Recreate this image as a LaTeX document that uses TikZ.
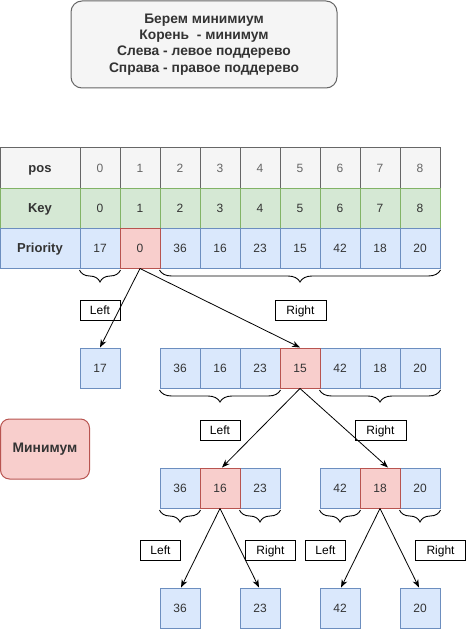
\documentclass[tikz,border=0pt]{standalone}
\usepackage{fontspec}
\setmainfont{Liberation Sans}
\usetikzlibrary{arrows.meta}
\usetikzlibrary{decorations.pathreplacing}

\definecolor{graybg}{HTML}{F5F5F5}
\definecolor{grayln}{HTML}{666666}
\definecolor{greenbg}{HTML}{D5E8D4}
\definecolor{greenln}{HTML}{82B366}
\definecolor{bluebg}{HTML}{DAE8FC}
\definecolor{blueln}{HTML}{6C8EBF}
\definecolor{redbg}{HTML}{F8CECC}
\definecolor{redln}{HTML}{B85450}
\definecolor{txt}{HTML}{333333}

\begin{document}
\begin{tikzpicture}[x=1pt, y=-1pt, line width=1pt,
    every node/.style={font=\fontsize{12}{16}\selectfont, text=txt},
    cell/.style={draw, minimum width=40pt, minimum height=40pt, inner sep=0pt, text height=8.6pt, text depth=0pt},
    head/.style={font=\fontsize{13}{16}\selectfont\bfseries, text=txt, text height=9.3pt},
    poscell/.style={cell, fill=graybg, draw=grayln, text=grayln},
    keycell/.style={cell, fill=greenbg, draw=greenln},
    priocell/.style={cell, fill=bluebg, draw=blueln},
    mincell/.style={cell, fill=redbg, draw=redln},
    tag/.style={draw=black, fill=white, text=black, minimum height=20pt, inner sep=0pt, text height=8.6pt, text depth=0pt},
    brc/.style={decorate, decoration={brace, mirror, amplitude=12pt}, line width=0.9pt},
    arr/.style={-{Stealth[length=8pt, width=6pt]}, line width=0.8pt}]
  \useasboundingbox (0,0) rectangle (466,631);

  % note
  \node[draw=grayln, fill=graybg, rounded corners=11pt, minimum width=266pt, minimum height=87pt,
        align=center, font=\fontsize{13.8}{16.2}\selectfont\bfseries] (note) at (204, 44.5)
        {Берем минимиум\\Корень \ - минимум\\Слева - левое поддерево\\Справа - правое поддерево};

  % table
  \node[poscell, minimum width=80pt, head] (pos) at (40, 168) {pos};
  \node[poscell] (c0) at (100, 168) {0};
  \node[poscell] (c1) at (140, 168) {1};
  \node[poscell] (c2) at (180, 168) {2};
  \node[poscell] (c3) at (220, 168) {3};
  \node[poscell] (c4) at (260, 168) {4};
  \node[poscell] (c5) at (300, 168) {5};
  \node[poscell] (c6) at (340, 168) {6};
  \node[poscell] (c7) at (380, 168) {7};
  \node[poscell] (c8) at (420, 168) {8};

  \node[keycell, minimum width=80pt, head] (key) at (40, 208) {Key};
  \node[keycell] (k0) at (100, 208) {0};
  \node[keycell] (k1) at (140, 208) {1};
  \node[keycell] (k2) at (180, 208) {2};
  \node[keycell] (k3) at (220, 208) {3};
  \node[keycell] (k4) at (260, 208) {4};
  \node[keycell] (k5) at (300, 208) {5};
  \node[keycell] (k6) at (340, 208) {6};
  \node[keycell] (k7) at (380, 208) {7};
  \node[keycell] (k8) at (420, 208) {8};

  \node[priocell, minimum width=80pt, head] (prio) at (40, 248) {Priority};
  \node[priocell] (p0) at (100, 248) {17};
  \node[priocell] (p2) at (180, 248) {36};
  \node[priocell] (p3) at (220, 248) {16};
  \node[priocell] (p4) at (260, 248) {23};
  \node[priocell] (p5) at (300, 248) {15};
  \node[priocell] (p6) at (340, 248) {42};
  \node[priocell] (p7) at (380, 248) {18};
  \node[priocell] (p8) at (420, 248) {20};
  \node[mincell] (p1) at (140, 248) {0};

  \draw[brc] ([yshift=-1.5pt]p0.south west) -- ([yshift=-1.5pt]p0.south east);
  \draw[brc] ([yshift=-1.5pt]p2.south west) -- ([yshift=-1.5pt]p8.south east);
  \node[tag, minimum width=40pt] (l1) at (100, 310) {Left};
  \node[tag, minimum width=51pt] (r1) at (300.5, 310) {Right};

  % level 1
  \node[priocell] (s17) at (100, 368) {17};
  \node[priocell] (s36) at (180, 368) {36};
  \node[priocell] (s16) at (220, 368) {16};
  \node[priocell] (s23) at (260, 368) {23};
  \node[priocell] (s42) at (340, 368) {42};
  \node[priocell] (s18) at (380, 368) {18};
  \node[priocell] (s20) at (420, 368) {20};
  \node[mincell] (s15) at (300, 368) {15};

  \draw[arr] (p1.south) -- (s17.north);
  \draw[arr] (p1.south) -- (s15.north);

  \draw[brc] ([yshift=-1.5pt]s36.south west) -- ([yshift=-1.5pt]s23.south east);
  \draw[brc] ([yshift=-1.5pt]s42.south west) -- ([yshift=-1.5pt]s20.south east);
  \node[tag, minimum width=40pt] (l2) at (220, 430) {Left};
  \node[tag, minimum width=51pt] (r2) at (380.5, 430) {Right};

  \node[draw=redln, fill=redbg, rounded corners=9pt, minimum width=89pt, minimum height=60pt,
        font=\fontsize{13.8}{16}\selectfont\bfseries] (minim) at (45, 449) {Минимум};

  % level 2
  \node[priocell] (t36) at (180, 488) {36};
  \node[priocell] (t23) at (260, 488) {23};
  \node[mincell] (t16) at (220, 488) {16};
  \node[priocell] (t42) at (340, 488) {42};
  \node[priocell] (t20) at (420, 488) {20};
  \node[mincell] (t18) at (380, 488) {18};

  \draw[arr] (s15.south) -- ([xshift=2pt]t16.north);
  \draw[arr] (s15.south) -- ([xshift=8pt]t18.north);

  \draw[brc] ([yshift=-1.5pt]t36.south west) -- ([yshift=-1.5pt]t36.south east);
  \draw[brc] ([yshift=-1.5pt]t23.south west) -- ([yshift=-1.5pt]t23.south east);
  \draw[brc] ([yshift=-1.5pt]t42.south west) -- ([yshift=-1.5pt]t42.south east);
  \draw[brc] ([yshift=-1.5pt]t20.south west) -- ([yshift=-1.5pt]t20.south east);
  \node[tag, minimum width=40pt] (l3) at (160.5, 550) {Left};
  \node[tag, minimum width=50pt] (r3) at (270.5, 550) {Right};
  \node[tag, minimum width=40pt] (l4) at (325.5, 550) {Left};
  \node[tag, minimum width=50pt] (r4) at (440.5, 550) {Right};

  % level 3
  \node[priocell] (f36) at (180, 608) {36};
  \node[priocell] (f23) at (260, 608) {23};
  \node[priocell] (f42) at (340, 608) {42};
  \node[priocell] (f20) at (420, 608) {20};

  \draw[arr] (t16.south) -- ([xshift=1pt]f36.north);
  \draw[arr] (t16.south) -- ([xshift=-1pt]f23.north);
  \draw[arr] (t18.south) -- ([xshift=1pt]f42.north);
  \draw[arr] (t18.south) -- ([xshift=-1pt]f20.north);
\end{tikzpicture}
\end{document}
